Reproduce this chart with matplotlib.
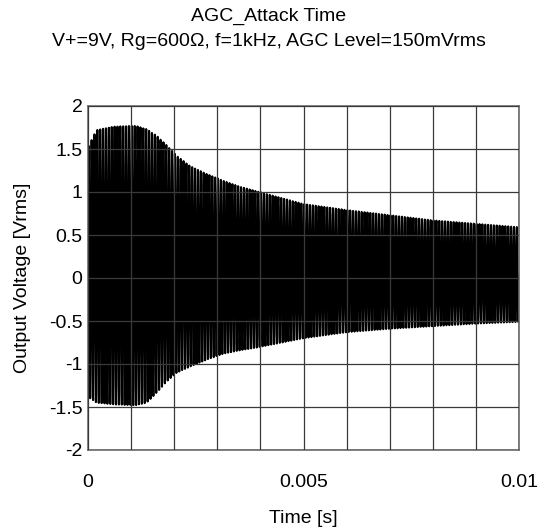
import numpy as np
import matplotlib
matplotlib.use("Agg")
import matplotlib.pyplot as plt

plt.rcParams["font.family"] = ["Liberation Sans", "DejaVu Sans"]

# envelope of the output waveform
env_t = [0.0, 0.0002, 0.0006, 0.0011, 0.00136, 0.0016, 0.00183, 0.00206,
         0.00237, 0.00275, 0.00314, 0.00353, 0.0039, 0.005, 0.006, 0.007,
         0.008, 0.009, 0.01]
env_upper = [1.52, 1.72, 1.76, 1.77, 1.73, 1.65, 1.54, 1.42, 1.30, 1.21,
             1.13, 1.06, 1.01, 0.86, 0.79, 0.73, 0.67, 0.63, 0.59]
env_lower = [-1.38, -1.45, -1.47, -1.48, -1.45, -1.33, -1.20, -1.10, -1.03,
             -0.95, -0.88, -0.84, -0.81, -0.70, -0.63, -0.59, -0.56, -0.53,
             -0.51]

n_cycles = 150  # carrier cycles across the 10 ms window
n_samples = 8000

x_ticks = [0, 0.005, 0.01]
x_tick_labels = ["0", "0.005", "0.01"]
y_ticks = [-2, -1.5, -1, -0.5, 0, 0.5, 1, 1.5, 2]
y_tick_labels = ["-2", "-1.5", "-1", "-0.5", "0", "0.5", "1", "1.5", "2"]

t = np.linspace(0, 0.01, n_samples)
up = np.interp(t, env_t, env_upper)
lo = np.interp(t, env_t, env_lower)
mid = (up + lo) / 2
amp = (up - lo) / 2
v = mid + amp * np.sin(2 * np.pi * n_cycles * t / 0.01)

fig = plt.figure(figsize=(5.37, 5.29), dpi=100)
ax = fig.add_axes([88 / 537, 1 - 450 / 529, 431 / 537, 344 / 529])

ax.plot(t, v, color="black", lw=1.5)

ax.set_xlim(0, 0.01)
ax.set_ylim(-2, 2)
ax.set_xticks(x_ticks)
ax.set_xticklabels(x_tick_labels)
ax.set_yticks(y_ticks)
ax.set_yticklabels(y_tick_labels)
ax.set_xticks(np.arange(0, 0.0101, 0.001), minor=True)
ax.grid(True, which="both", color="#3a3a3a", lw=0.9)
ax.set_axisbelow(False)
ax.tick_params(which="both", length=0, labelsize=14)
ax.tick_params(axis="x", pad=17)
ax.tick_params(axis="y", pad=4)
for s in ax.spines.values():
    s.set_color("#6a6a6a")
    s.set_linewidth(1.2)

ax.set_xlabel("Time [s]", fontsize=14, labelpad=14)
ax.set_ylabel("Output Voltage [Vrms]", fontsize=14, labelpad=13)

fig.text(0.5, 1 - 16 / 529, "AGC_Attack Time", ha="center", va="center",
         fontsize=14)
fig.text(0.5, 1 - 41 / 529, "V+=9V, Rg=600Ω, f=1kHz, AGC Level=150mVrms",
         ha="center", va="center", fontsize=14)

fig.savefig("out.png", dpi=100)
